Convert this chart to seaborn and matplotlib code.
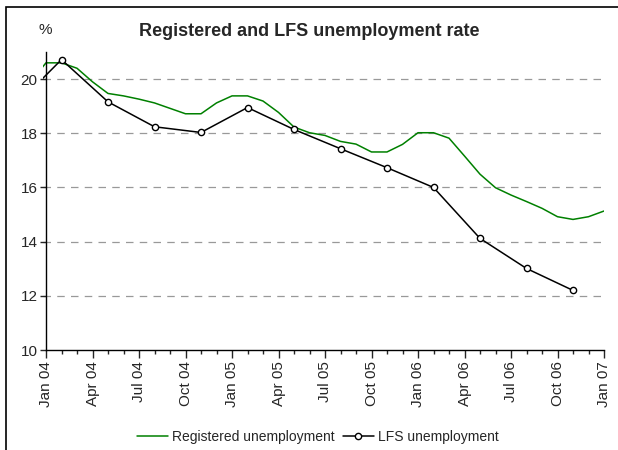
import numpy as np
import pandas as pd
import matplotlib
matplotlib.use("Agg")
import matplotlib.pyplot as plt
import seaborn as sns
from matplotlib.patches import Rectangle
from matplotlib.ticker import MultipleLocator
import matplotlib.font_manager as fm

# month index: 0 = Jan 04 (-1 = Dec 03, -2 = Nov 03)
reg_months = list(range(-1, 37))
reg_values = [19.9,
              20.6, 20.6, 20.4, 19.9, 19.47, 19.38, 19.26, 19.12, 18.92, 18.72, 18.72, 19.12,
              19.38, 19.38, 19.19, 18.77, 18.23, 18.02, 17.92, 17.7, 17.6, 17.31, 17.31, 17.59,
              18.02, 18.02, 17.82, 17.16, 16.49, 15.99, 15.72, 15.48, 15.23, 14.92, 14.82, 14.92,
              15.13]

lfs_months = [-2, 1, 4, 7, 10, 13, 16, 19, 22, 25, 28, 31, 34]
lfs_values = [19.0, 20.72, 19.16, 18.24, 18.03, 18.95, 18.14, 17.43, 16.73, 16.0, 14.12, 13.01, 12.2]

tick_labels = ["Jan 04", "Apr 04", "Jul 04", "Oct 04", "Jan 05", "Apr 05", "Jul 05",
               "Oct 05", "Jan 06", "Apr 06", "Jul 06", "Oct 06", "Jan 07"]

sns.set_style("white")
names = {f.name for f in fm.fontManager.ttflist}
font = "Liberation Sans Narrow" if "Liberation Sans Narrow" in names else "Liberation Sans"
plt.rcParams["font.family"] = [font, "DejaVu Sans"]

reg = pd.DataFrame({"month": reg_months, "rate": reg_values})
lfs = pd.DataFrame({"month": lfs_months, "rate": lfs_values})

fig = plt.figure(figsize=(6.18, 4.5), dpi=100)
ax = fig.add_axes([42.9 / 618, 1 - 350 / 450, (604 - 42.9) / 618, (350 - 52) / 450])

sns.lineplot(data=reg, x="month", y="rate", ax=ax, color="#008000", linewidth=1.1,
             label="Registered unemployment")
sns.lineplot(data=lfs, x="month", y="rate", ax=ax, color="black", linewidth=1.1,
             marker="o", markersize=4.5, markerfacecolor="white", markeredgecolor="black",
             markeredgewidth=1.0, label="LFS unemployment")

ax.set_xlim(-0.2, 36)
ax.set_ylim(10, 21)
ax.spines["left"].set_position(("data", 0))
ax.spines["left"].set_bounds(10, 21)
ax.spines["bottom"].set_bounds(0, 36)
for s in ["top", "right"]:
    ax.spines[s].set_visible(False)
for s in ["left", "bottom"]:
    ax.spines[s].set_color("black")
    ax.spines[s].set_linewidth(1.0)

ax.set_yticks([10, 12, 14, 16, 18, 20])
ax.set_xticks(range(0, 37, 3))
ax.set_xticklabels(tick_labels, rotation=90, fontsize=11)
ax.xaxis.set_minor_locator(MultipleLocator(1))
ax.tick_params(axis="x", which="major", direction="out", length=6, width=1, bottom=True, pad=2)
ax.tick_params(axis="x", which="minor", direction="out", length=3, width=1, bottom=True)
ax.tick_params(axis="y", direction="out", length=4, width=1, left=True, labelsize=11, pad=2)

for v in [12, 14, 16, 18, 20]:
    ax.axhline(v, color="#999999", linestyle=(0, (6, 5)), linewidth=0.9, zorder=0)

ax.set_xlabel("")
ax.set_ylabel("")
ax.text(45 / 618, 1 - 30 / 450, "%", transform=fig.transFigure, fontsize=11,
        ha="center", va="center")
fig.text(309 / 618, 1 - 31 / 450, "Registered and LFS unemployment rate", fontsize=13,
         fontweight="bold", ha="center", va="center", family=["Liberation Sans", "DejaVu Sans"])

ax.legend(loc="center", bbox_to_anchor=(318 / 618, 1 - 437 / 450), bbox_transform=fig.transFigure,
          ncol=2, frameon=False, fontsize=10, handlelength=2.2, columnspacing=0.6, handletextpad=0.3)

fig.patches.append(Rectangle((6 / 618, -0.1), 1.2, 1 - 7 / 450 + 0.1, transform=fig.transFigure,
                             fill=False, edgecolor="black", linewidth=1.2))

fig.savefig("out.png", dpi=100)
